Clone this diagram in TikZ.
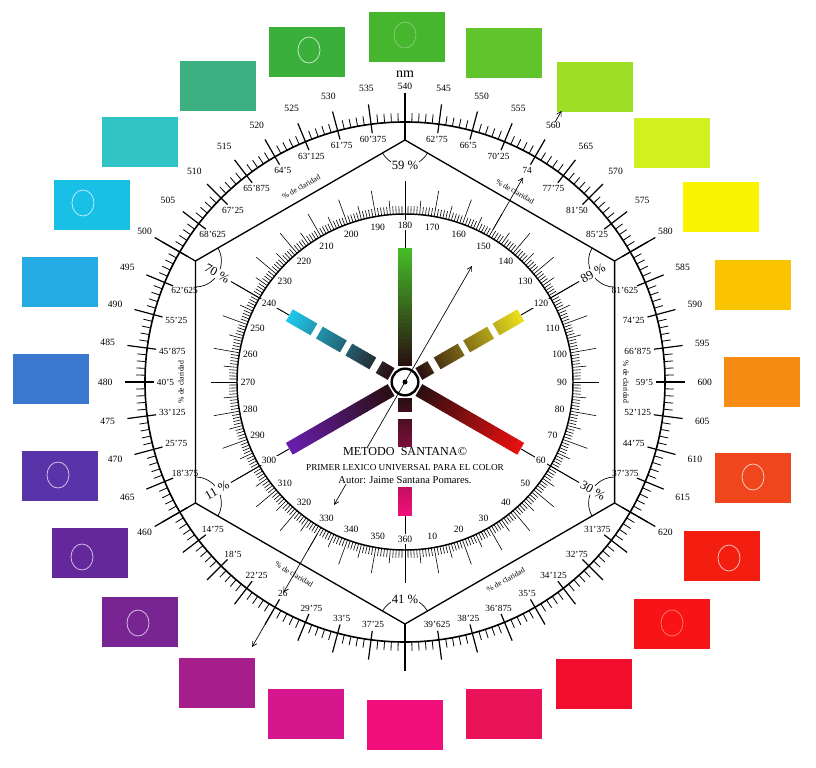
\documentclass[tikz,border=0pt]{standalone}
\usepackage{fontspec}
\setmainfont{Liberation Serif}
\usetikzlibrary{arrows.meta}
\definecolor{s105}{RGB}{58,176,58}
\definecolor{s090}{RGB}{70,182,46}
\definecolor{s075}{RGB}{98,196,44}
\definecolor{s060}{RGB}{158,222,36}
\definecolor{s045}{RGB}{210,240,30}
\definecolor{s030}{RGB}{250,244,0}
\definecolor{s015}{RGB}{250,196,0}
\definecolor{s000}{RGB}{246,140,20}
\definecolor{sm015}{RGB}{240,70,30}
\definecolor{sm030}{RGB}{244,30,16}
\definecolor{sm045}{RGB}{248,20,22}
\definecolor{sm060}{RGB}{240,14,44}
\definecolor{sm075}{RGB}{234,18,88}
\definecolor{sm090}{RGB}{240,14,122}
\definecolor{sm105}{RGB}{214,22,140}
\definecolor{sm120}{RGB}{166,30,140}
\definecolor{sm135}{RGB}{120,36,146}
\definecolor{s210}{RGB}{100,40,156}
\definecolor{s195}{RGB}{88,52,168}
\definecolor{s180}{RGB}{58,120,208}
\definecolor{s165}{RGB}{38,170,228}
\definecolor{s150}{RGB}{24,192,230}
\definecolor{s135}{RGB}{48,196,196}
\definecolor{s120}{RGB}{60,176,128}
\definecolor{cdark}{RGB}{40,14,16}
\definecolor{bgreen}{RGB}{70,190,40}
\definecolor{bred}{RGB}{235,15,15}
\definecolor{bpurple}{RGB}{105,30,175}
\definecolor{byellow}{RGB}{235,225,30}
\definecolor{bcyan}{RGB}{30,200,235}
\definecolor{bmagenta}{RGB}{240,16,120}

\begin{document}
\begin{tikzpicture}[x=0.75pt,y=0.75pt,
  swatch/.style={inner sep=0pt, minimum width=57pt, minimum height=37.5pt},
  ring/.style={white, line width=0.6pt, opacity=0.7},
  bigtick/.style={line width=0.9pt},
  smalltick/.style={line width=0.6pt},
  innertick/.style={line width=0.45pt},
  nmlab/.style={font=\fontsize{7.2}{8}\selectfont, inner sep=1pt},
  clarlab/.style={font=\fontsize{7}{8}\selectfont, inner sep=0.5pt},
  inlab/.style={font=\fontsize{7.2}{8}\selectfont, inner sep=1pt, fill=white},
  pct/.style={font=\fontsize{9.5}{11}\selectfont, inner sep=0.5pt, fill=white},
  clar/.style={font=\fontsize{5.8}{7}\selectfont, inner sep=0pt},
  ptr/.style={line width=0.5pt, -{Straight Barb[length=3.5pt,width=4pt]}}]
\path[fill=white,use as bounding box] (-405,-385) rectangle (411,382);
\foreach \n/\x/\y/\c in {1/1.5/345/s090, 2/99/329/s075, 3/190/295/s060, 4/267/239/s045, 5/316/175/s030, 6/348/97/s015, 7/357/0/s000, 8/348/-96/sm015, 9/317/-174/sm030, 10/267/-242/sm045, 11/189/-302/sm060, 12/99/-332/sm075, 13/0/-343/sm090, 14/-99/-332/sm105, 15/-188/-301/sm120, 16/-265/-240/sm135, 17/-315/-171/s210, 18/-345/-94/s195, 19/-354/3/s180, 20/-345/100/s165, 21/-313/177/s150, 22/-265/240/s135, 23/-187/296/s120, 24/-98/330/s105}
  \node[swatch, fill=\c] (sw\n) at (\x,\y) {};
\foreach \x/\y/\o in {-96/332/0.7, 0/347/0.3, -322/179/0.7, -347/-93/0.7, -323/-175/0.7, -267/-241/0.7, 348/-95/0.7, 324/-176/0.7, 267/-241/0.4}
  \draw[ring, opacity=\o] (\x,\y) ellipse (11 and 13);
\foreach \i in {0,...,239}{
  \pgfmathsetmacro\a{\i*1.5}
  \pgfmathtruncatemacro\m{mod(\i,5)}
  \ifnum\m=0
    \draw[bigtick] (\a:251) -- (\a:280);
  \else
    \draw[smalltick] (\a:260) -- (\a:269);
  \fi
}
\draw[line width=1.2pt] (0,0) circle (260);
\foreach \i in {0,...,359}{
  \pgfmathtruncatemacro\m{mod(\i,10)}
  \pgfmathtruncatemacro\n{mod(\i,5)}
  \ifnum\m=0 \def\L{194}\else\ifnum\n=0 \def\L{182}\else\def\L{176}\fi\fi
  \draw[innertick] (\i:168) -- (\i:\L);
}
\draw[line width=1.1pt] (0,0) circle (168);
\foreach \k/\ang in {1/90, 2/30, 3/-30, 4/-90, 5/210, 6/150}
  \coordinate (v\k) at (\ang:242);
\draw[line width=1pt] (v1) -- (v2) -- (v3) -- (v4) -- (v5) -- (v6) -- cycle;
\foreach \k/\ang in {1/90, 2/30, 3/-30, 4/-90, 5/210, 6/150}{
  \draw[bigtick] (v\k) -- (\ang:289);
  \draw[line width=0.5pt] (v\k) ++(\ang+120:26) arc[start angle=\ang+120, end angle=\ang+240, radius=26];
  \draw[line width=0.7pt] (\ang:134) -- (\ang:201);
}
\foreach \ang/\c in {90/bgreen, -30/bred, 210/bpurple, 30/byellow, 150/bcyan, -90/bmagenta}{
  \begin{scope}[rotate=\ang]
  \foreach \j in {0,...,29}{
    \pgfmathsetmacro\p{(\j+0.5)*100/30}
    \fill[\c!\p!cdark] ({16+\j*3.9},-6.8) rectangle ({16+(\j+1)*3.9+0.6},6.8);
  }
  \end{scope}
}
\foreach \ang in {30,150}{
  \begin{scope}[rotate=\ang]
  \fill[white] (30,-8) rectangle (37,8);
  \fill[white] (65,-8) rectangle (71,8);
  \fill[white] (99,-8) rectangle (105,8);
  \end{scope}
}
\begin{scope}[rotate=-90]
\fill[white] (30,-8) rectangle (37,8);
\fill[white] (65,-8) rectangle (105,8);
\end{scope}
\node[circle, draw, line width=1.8pt, fill=white, minimum size=20pt, inner sep=0pt] (hub) at (0,0) {};
\fill (hub.center) circle (2.5);
\coordinate (pa) at (240:75);
\coordinate (pb) at (60:134);
\draw[ptr] (pa) -- (pb);
\draw[ptr] (240:118) -- (240:142);
\draw[ptr] (60:176) -- (60:236);
\draw[ptr] (60:300) -- (60:313);
\draw[ptr] (240:175) -- (240:243);
\draw[ptr] (240:265) -- (240:306);
\foreach \v in {10,20,...,360}
  \node[inlab] (in\v) at ({\v-90}:157) {\v};
\foreach \nm in {460,465,...,620}{
  \pgfmathsetmacro\a{90-1.5*(\nm-540)}
  \pgfmathsetmacro\b{mod(\a+540,360)}
  \node[nmlab, anchor=\b] (nm\nm) at (\a:291) {\nm};
}
\foreach \a/\t in {97.5/60'375, 105/61'75, 112.5/63'125, 120/64'5, 127.5/65'875, 135/67'25, 142.5/68'625,
  82.5/62'75, 75/66'5, 67.5/70'25, 60/74, 52.5/77'75, 45/81'50, 37.5/85'25,
  22.5/81'625, 15/74'25, 7.5/66'875, 0/59'5, 352.5/52'125, 345/44'75, 337.5/37'375,
  322.5/31'375, 315/32'75, 307.5/34'125, 300/35'5, 292.5/36'875, 285/38'25, 277.5/39'625,
  262.5/37'25, 255/33'5, 247.5/29'75, 240/26, 232.5/22'25, 225/18'5, 217.5/14'75,
  202.5/18'375, 195/25'75, 187.5/33'125, 180/40'5, 172.5/45'875, 165/55'25, 157.5/62'625}
  \node[clarlab, anchor=\a] at (\a:249) {\t};
\foreach \k/\ang/\pc/\rot in {1/90/59/0, 2/30/89/30, 3/-30/30/-30, 4/-90/41/0, 5/210/11/30, 6/150/70/-30}
  \node[pct, rotate=\rot] (pc\k) at (\ang:217) {\pc{} \%};
\node[clar, rotate=30] (cl1) at (118:221) {\% de claridad};
\node[clar, rotate=-30] (cl2) at (60:220) {\% de claridad};
\node[clar, rotate=-90] (cl3) at (0:221) {\% de claridad};
\node[clar, rotate=30] (cl4) at (-63:222) {\% de claridad};
\node[clar, rotate=-30] (cl5) at (240:222) {\% de claridad};
\node[clar, rotate=90] (cl6) at (180:224) {\% de claridad};
\node[font=\fontsize{10.5}{12}\selectfont, inner sep=0pt] (unit) at (0,308) {nm};
\node[font=\fontsize{9.1}{11}\selectfont, inner sep=0pt] (title) at (0,-70) {METODO\ \ SANTANA©};
\node[font=\fontsize{6.9}{8}\selectfont, inner sep=0pt] (sub) at (0,-86) {PRIMER LEXICO UNIVERSAL PARA EL COLOR};
\node[font=\fontsize{7.9}{9}\selectfont, inner sep=0pt] (auth) at (0,-98.5) {Autor: Jaime Santana Pomares.};
\end{tikzpicture}
\end{document}
